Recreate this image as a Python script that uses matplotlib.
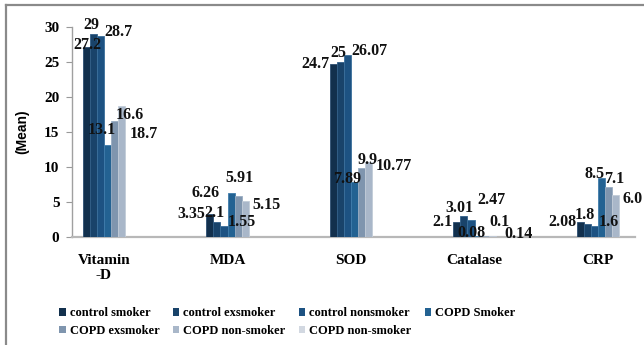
import matplotlib
matplotlib.use("Agg")
import matplotlib.pyplot as plt
from matplotlib.patches import Patch
from matplotlib.lines import Line2D
import numpy as np

categories = ["Vitamin\n-D", "MDA", "SOD", "Catalase", "CRP"]
series_names = ["control smoker", "control exsmoker", "control nonsmoker",
                "COPD Smoker", "COPD exsmoker", "COPD non-smoker", "COPD non-smoker"]

control_smoker = [27.2, 3.35, 24.7, 2.1, 2.08]
control_exsmoker = [29, 2.1, 25, 3.01, 1.8]
control_nonsmoker = [28.7, 1.55, 26.07, 2.47, 1.6]
copd_smoker = [13.1, 6.26, 7.89, 0.08, 8.5]
copd_exsmoker = [16.6, 5.91, 9.9, 0.1, 7.1]
copd_nonsmoker = [18.7, 5.15, 10.77, 0.14, 6.0]
label_text = [
    ["27.2", "3.35", "24.7", "2.1", "2.08"],
    ["29", "2.1", "25", "3.01", "1.8"],
    ["28.7", "1.55", "26.07", "2.47", "1.6"],
    ["13.1", "6.26", "7.89", "0.08", "8.5"],
    ["16.6", "5.91", "9.9", "0.1", "7.1"],
    ["18.7", "5.15", "10.77", "0.14", "6.0"],
]
yticks = [0, 5, 10, 15, 20, 25, 30]

series_values = [control_smoker, control_exsmoker, control_nonsmoker,
                 copd_smoker, copd_exsmoker, copd_nonsmoker]
colors = ["#12304d", "#19436a", "#1d5282", "#236292", "#7f95ae", "#a9b7c9", "#d2d8e1"]
edge_colors = ["#2c4f72", "#325f88", "#3a6f9c", "#3f7cab", "#9aadc2", "#c2ccd8", "#e2e6ec"]

# per-series label placement: (dx px from bar centre, dy px above bar top, ha)
label_style = [(-4, 0, "right"), (-2, 9, "center"), (4, 4, "left"),
               (-7, 3, "center"), (6, 8, "center"), (7, -4, "left")]
# individual label nudges: (series, category) -> (dx, dy, ha)
label_nudge = {
    (0, 0): (1, 2, "center"),
    (3, 0): (-6, 15, "center"),
    (4, 0): (15, 6, "center"),
    (5, 0): (8, -28, "left"),
    (3, 1): (-26, 0, "center"),
    (4, 1): (1, 18, "center"),
    (1, 3): (-4, 8, "center"),
    (2, 3): (6, 20, "left"),
    (4, 3): (14, 14, "center"),
    (5, 3): (12, 2, "left"),
}

serif = "Liberation Serif"

fig = plt.figure(figsize=(6.44, 3.45), dpi=100)
ax = fig.add_axes([72 / 644, 1 - 237 / 345, (635 - 72) / 644, (237 - 27) / 345])

x = np.arange(len(categories))
bw = 0.058
n = len(series_values)
for i, vals in enumerate(series_values):
    pos = x + (i - (n - 1) / 2) * bw
    ax.bar(pos, vals, width=bw, color=colors[i], edgecolor=edge_colors[i],
           linewidth=0.6, zorder=3)

# data labels, offset in pixels
px = 72 / fig.dpi
for i, vals in enumerate(series_values):
    pos = x + (i - (n - 1) / 2) * bw
    for j, v in enumerate(vals):
        dx, dy, ha = label_nudge.get((i, j), label_style[i])
        ax.annotate(label_text[i][j], (pos[j], v), xytext=(dx * px, dy * px),
                    textcoords="offset points", ha=ha, va="center",
                    fontsize=11.5, fontweight="bold", family=serif,
                    color="#111111", zorder=5, annotation_clip=False)

ax.set_xlim((72 - 104) / 123.5, (635 - 104) / 123.5)
ax.set_ylim(0, 30)
ax.set_yticks(yticks)
ax.set_yticklabels([str(t) for t in yticks], fontsize=11, fontweight="bold",
                   family=serif)
ax.set_xticks(x)
ax.set_xticklabels(categories, fontsize=11, fontweight="bold", family=serif,
                   linespacing=1.25)
ax.tick_params(axis="x", length=0, pad=12)
ax.tick_params(axis="y", length=4, width=0.8, color="#999999", pad=5)

for s in ["top", "right"]:
    ax.spines[s].set_visible(False)
ax.spines["left"].set_color("#a0a0a0")
ax.spines["left"].set_linewidth(1.0)
ax.spines["bottom"].set_color("#b8b8b8")
ax.spines["bottom"].set_linewidth(1.6)

ax.set_ylabel("(Mean)", fontsize=10, fontweight="bold", family="Liberation Sans",
              labelpad=11)

handles = [Patch(facecolor=c, edgecolor="none") for c in colors]
order = [0, 4, 1, 5, 2, 6, 3]
leg = fig.legend([handles[k] for k in order], [series_names[k] for k in order],
                 ncol=4, loc="center left", bbox_to_anchor=(59 / 644, 1 - 322 / 345),
                 frameon=False, handlelength=0.55, handleheight=0.55,
                 handletextpad=0.3, columnspacing=1.05, labelspacing=0.45,
                 prop={"family": serif, "weight": "bold", "size": 9},
                 borderaxespad=0, borderpad=0)

# outer chart frame
fig.add_artist(Line2D([6 / 644, 1.0], [1 - 5 / 345, 1 - 5 / 345],
                      transform=fig.transFigure, color="#8a8a8a", lw=1.6))
fig.add_artist(Line2D([6 / 644, 6 / 644], [0.0, 1 - 5 / 345],
                      transform=fig.transFigure, color="#8a8a8a", lw=1.6))

fig.savefig("out.png", dpi=100)
